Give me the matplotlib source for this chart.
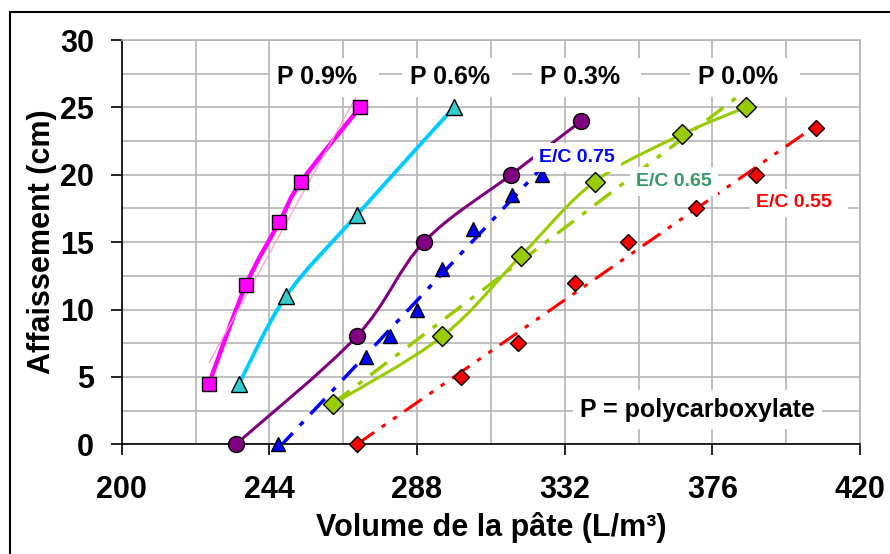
import matplotlib.pyplot as plt
import numpy as np
from matplotlib.path import Path
from matplotlib.patches import PathPatch, Rectangle

plt.rcParams['font.family'] = ['Liberation Sans', 'DejaVu Sans']
plt.rcParams['font.weight'] = 'bold'

# P 0.9 %
vol_p09 = [226, 237, 247, 253.5, 271]
aff_p09 = [4.5, 11.8, 16.5, 19.5, 25]
# P 0.6 %
vol_p06 = [235, 249, 270, 299]
aff_p06 = [4.5, 11, 17, 25]
# P 0.3 %
vol_p03 = [234, 270, 290, 316, 337]
aff_p03 = [0, 8, 15, 20, 24]
# P 0.0 %  (also the E/C 0.65 trend)
vol_p00 = [263, 295.5, 319, 341, 367, 386]
aff_p00 = [3, 8, 14, 19.5, 23, 25]
# E/C 0.75
vol_ec75 = [246.7, 272.7, 280, 288, 295.5, 304.6, 316.2, 325.3]
aff_ec75 = [0, 6.5, 8, 10, 13, 16, 18.5, 20]
# E/C 0.55
vol_ec55 = [270, 301, 318, 335, 351, 371, 389, 407]
aff_ec55 = [0, 5, 7.5, 12, 15, 17.5, 20, 23.5]

x_ticks = [200, 244, 288, 332, 376, 420]
y_ticks = [0, 5, 10, 15, 20, 25, 30]


def smooth_path(x, y):
    # Excel-like smoothed line: cubic Bezier through every point
    p = np.column_stack([x, y]).astype(float)
    ext = np.vstack([p[0], p, p[-1]])
    verts = [p[0]]
    codes = [Path.MOVETO]
    for i in range(len(p) - 1):
        c1 = ext[i + 1] + (ext[i + 2] - ext[i]) / 6
        c2 = ext[i + 2] - (ext[i + 3] - ext[i + 1]) / 6
        verts += [c1, c2, p[i + 1]]
        codes += [Path.CURVE4] * 3
    return Path(verts, codes)


def trend(ax, x, y, **kw):
    k, b = np.polyfit(x, y, 1)
    xs = np.array([min(x), max(x)])
    ax.plot(xs, k * xs + b, **kw)


fig = plt.figure(figsize=(8.9, 5.54), dpi=100)
ax = fig.add_axes([121.7 / 890, 1 - 444.3 / 554, (860 - 121.7) / 890, (444.3 - 40) / 554])

# smoothed P curves
for xs, ys, col, lw in [(vol_p09, aff_p09, '#FF00FF', 3.2),
                        (vol_p06, aff_p06, '#00CCFF', 2.8),
                        (vol_p03, aff_p03, '#800080', 2.2),
                        (vol_p00, aff_p00, '#99CC00', 2.2)]:
    ax.add_patch(PathPatch(smooth_path(xs, ys), fill=False, ec=col, lw=lw, zorder=2))

# linear trends
trend(ax, vol_p09, aff_p09, color='#FF99CC', lw=0.9, zorder=2)
trend(ax, vol_ec75, aff_ec75, color='#0000FF', lw=2.5, dashes=(6, 3, 1.5, 3), zorder=2)
trend(ax, vol_p00, aff_p00, color='#99CC00', lw=2.5, dashes=(6, 3, 1.5, 3), zorder=2)
trend(ax, vol_ec55, aff_ec55, color='#FF0000', lw=2.2, dashes=(7, 3, 1.5, 3, 1.5, 3), zorder=2)

# markers
mk = dict(ls='none', mec='black', mew=1, clip_on=False, zorder=4)
ax.plot(vol_p09, aff_p09, marker='s', ms=10, mfc='#FF00FF', **mk)
ax.plot(vol_p06, aff_p06, marker='^', ms=11.5, mfc='#33CCCC', **mk)
ax.plot(vol_p03, aff_p03, marker='o', ms=11.5, mfc='#800080', **mk)
ax.plot(vol_p00, aff_p00, marker='D', ms=10.5, mfc='#99CC00', **mk)
ax.plot(vol_ec75, aff_ec75, marker='^', ms=9.5, mfc='#0000FF', **mk)
ax.plot(vol_ec55, aff_ec55, marker='D', ms=8.5, mfc='#FF0000', **mk)

# labels
box = dict(facecolor='white', edgecolor='none', boxstyle='square,pad=0.3')
for x, s in [(246.3, 'P 0.9%'), (285.9, 'P 0.6%'), (324.6, 'P 0.3%'), (371.7, 'P 0.0%')]:
    ax.text(x, 26.73, s + '  ', fontsize=18, fontweight='bold', ha='left', va='baseline',
            bbox=box, zorder=5)
ax.text(324.4, 20.94, 'E/C 0.75', color='#0000FF', fontsize=14, ha='left', va='baseline',
        bbox=box, zorder=5)
ax.text(353.3, 19.16, 'E/C 0.65', color='#339966', fontsize=14, ha='left', va='baseline',
        bbox=box, zorder=5)
ax.text(389.0, 17.58, 'E/C 0.55  ', color='#FF0000', fontsize=14, ha='left', va='baseline',
        bbox=box, zorder=5)
ax.text(336.6, 2.05, 'P = polycarboxylate', fontsize=18, ha='left', va='baseline',
        bbox=box, zorder=5)

# axes
ax.set_xlim(200, 420)
ax.set_ylim(0, 30)
ax.set_xticks(x_ticks)
ax.set_yticks(y_ticks)
ax.set_xticks(np.arange(200, 421, 22), minor=True)
ax.set_yticks(np.arange(0, 30.1, 2.5), minor=True)
ax.grid(True, which='both', color='#b4b4b4', lw=1.2, zorder=0)
ax.set_axisbelow(True)
ax.tick_params(which='major', direction='out', length=8, width=1.2, labelsize=22)
ax.tick_params(axis='y', which='major', pad=12)
ax.tick_params(axis='x', which='major', pad=14)
ax.tick_params(which='minor', length=0)
for side in ['left', 'bottom']:
    ax.spines[side].set_linewidth(1.2)
for side in ['top', 'right']:
    ax.spines[side].set_color('#b4b4b4')
    ax.spines[side].set_linewidth(1.2)

fig.text(490.9 / 890, 1 - 536 / 554, 'Volume de la pâte (L/m³)', fontsize=22,
         ha='center', va='baseline')
fig.text(42 / 890, 1 - 242 / 554, 'Affaissement (cm)', fontsize=22, rotation=90,
         ha='center', va='center')

# outer chart frame
fig.add_artist(Rectangle((10 / 890, -0.1), 1.2, 1 - 12 / 554 + 0.1, transform=fig.transFigure,
                         fill=False, ec='black', lw=1.5))

fig.savefig('out.png', dpi=100)
